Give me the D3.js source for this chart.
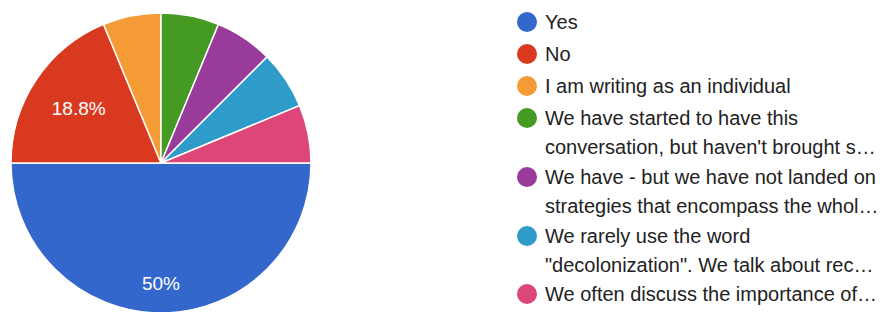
<!DOCTYPE html>
<html>
<head>
<meta charset="utf-8">
<script src="https://cdn.jsdelivr.net/npm/d3@7"></script>
<style>
body { margin: 0; background: #fff; }
text { font-family: "Liberation Sans", Arial, sans-serif; }
</style>
</head>
<body>
<div id="chart"></div>
<script>
//answers, counts (16 responses) and colours
var answers = ["Yes", "No", "I am writing as an individual",
	"We have started to have this conversation, but haven't brought s\u2026",
	"We have - but we have not landed on strategies that encompass the whol\u2026",
	"We rarely use the word \"decolonization\". We talk about rec\u2026",
	"We often discuss the importance of\u2026"];
var counts = [8, 3, 1, 1, 1, 1, 1];
var percentLabels = ["50%", "18.8%", "", "", "", "", ""];
var colors = ["#3367cc", "#d93a1f", "#f59b35", "#459a24", "#983b9a", "#2f9bc9", "#dc4777"];
//legend lines, already wrapped like the original
var legendLines = [
	["Yes"],
	["No"],
	["I am writing as an individual"],
	["We have started to have this", "conversation, but haven't brought s\u2026"],
	["We have - but we have not landed on", "strategies that encompass the whol\u2026"],
	["We rarely use the word", "\"decolonization\". We talk about rec\u2026"],
	["We often discuss the importance of\u2026"]
];

var width = 880;
var height = 312;

var svg = d3.select("#chart").append("svg")
	.attr("width", width)
	.attr("height", height);

var radius = 150;
var g = svg.append("g")
	.attr("transform", "translate(161,163)");

//pie starts at 3 o'clock and goes clockwise
var pie = d3.pie()
	.sort(null)
	.startAngle(Math.PI / 2)
	.endAngle(Math.PI / 2 + 2 * Math.PI);

var arc = d3.arc()
	.innerRadius(0)
	.outerRadius(radius);

var arcs = pie(counts);

g.selectAll("path")
	.data(arcs)
	.enter().append("path")
	.attr("d", arc)
	.style("fill", function(d, i) { return colors[i]; })
	.style("stroke", "#fff")
	.style("stroke-width", 1.5);

//percent labels inside the big slices
var labelArc = d3.arc()
	.innerRadius(radius * 0.8)
	.outerRadius(radius * 0.8);
var labelArc2 = d3.arc()
	.innerRadius(radius * 0.66)
	.outerRadius(radius * 0.66);

g.selectAll("text.pct")
	.data(arcs)
	.enter().append("text")
	.attr("class", "pct")
	.attr("transform", function(d, i)
	{
		var c = i == 0 ? labelArc.centroid(d) : labelArc2.centroid(d);
		return "translate(" + c + ")";
	})
	.attr("text-anchor", "middle")
	.attr("dy", "0.36em")
	.style("fill", "#fff")
	.style("font-size", "19px")
	.text(function(d, i) { return percentLabels[i]; });

//legend
var legendY = [22, 54, 86, 118, 177, 236, 294];
var lineGap = 29;

var legend = svg.selectAll("g.legend")
	.data(answers)
	.enter().append("g")
	.attr("class", "legend")
	.attr("transform", function(d, i) { return "translate(527," + legendY[i] + ")"; });

legend.append("circle")
	.attr("r", 10)
	.style("fill", function(d, i) { return colors[i]; });

legend.each(function(d, i)
{
	var t = d3.select(this);
	legendLines[i].forEach(function(line, j)
	{
		t.append("text")
			.attr("x", 18)
			.attr("y", j * lineGap)
			.attr("dy", "0.36em")
			.style("fill", "#222")
			.style("font-size", "20px")
			.text(line);
	});
});
</script>
</body>
</html>
